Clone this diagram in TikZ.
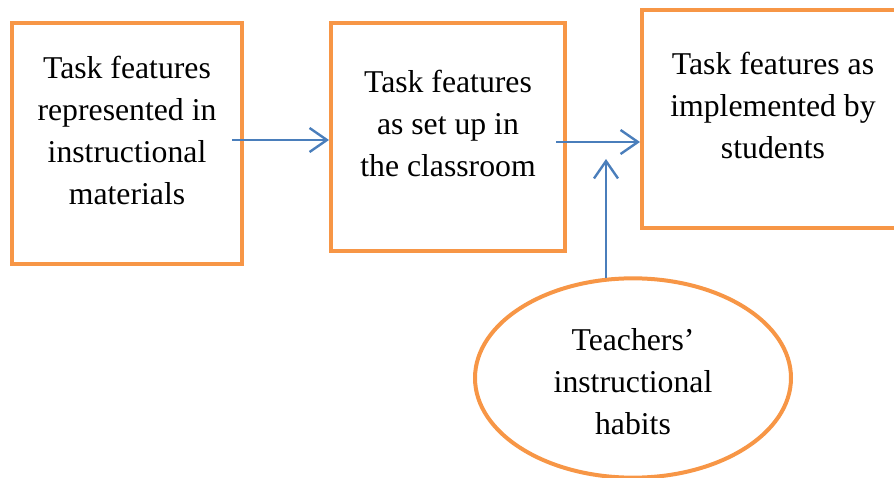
\documentclass[tikz,border=0pt]{standalone}
\usepackage{fontspec}
\setmainfont{Liberation Serif}
\usetikzlibrary{shapes.geometric,arrows.meta}
\definecolor{borange}{HTML}{F79646}
\definecolor{ablue}{HTML}{4A7EBB}
\begin{document}
\begin{tikzpicture}[x=0.75pt,y=-0.75pt,
  boxshape/.style={draw=borange,line width=3pt,rectangle,inner sep=0pt},
  ovalshape/.style={draw=borange,line width=3pt,ellipse,inner sep=0pt},
  lbl/.style={align=center,font=\fontsize{23.8}{31.5}\selectfont,inner sep=0pt},
  conn/.style={draw=ablue,line width=1.8pt,-{Straight Barb[length=13pt,width=18pt,line width=1.8pt]}}]
\useasboundingbox (0,0) rectangle (894,478);
\clip (0,0) rectangle (894,478);
\node[boxshape,minimum width=172.5pt,minimum height=180.4pt] (b1) at (127,143.75) {};
\node[boxshape,minimum width=175.5pt,minimum height=171pt] (b2) at (448,137) {};
\node[boxshape,minimum width=196.5pt,minimum height=163.5pt] (b3) at (773,119) {};
\node[ovalshape,minimum width=237pt,minimum height=149.5pt] (e) at (633,378) {};
\node[lbl] (t1) at (127,130) {Task features\\represented in\\instructional\\materials};
\node[lbl] (t2) at (448,123) {Task features\\as set up in\\the classroom};
\node[lbl] (t3) at (773,105) {Task features as\\implemented by\\students};
\node[lbl] (t4) at (633,382) {Teachers’\\instructional\\habits};
\coordinate (a1s) at (232,140);
\coordinate (a2s) at (556,142);
\coordinate (a3s) at (606,278);
\coordinate (a3e) at (606,159);
\draw[conn] (a1s) -- (b2.west |- a1s);
\draw[conn] (a2s) -- (b3.west |- a2s);
\draw[conn] (a3s) -- (a3e);
\end{tikzpicture}
\end{document}
